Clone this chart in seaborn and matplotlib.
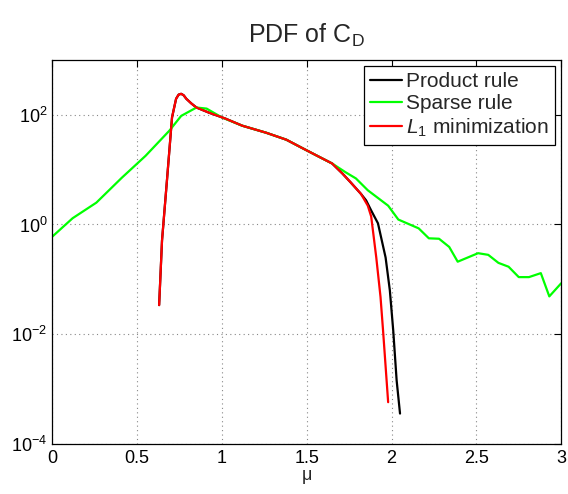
import numpy as np
import pandas as pd
import matplotlib
matplotlib.use("Agg")
import matplotlib.pyplot as plt
import seaborn as sns
from matplotlib.ticker import FixedLocator, LogFormatterMathtext, NullLocator

# values (mu, pdf)
product_mu = [0.63, 0.647, 0.676, 0.706, 0.73, 0.745, 0.76, 0.775, 0.79, 0.82, 0.85, 0.92,
              1.02, 1.12, 1.26, 1.38, 1.47, 1.55, 1.65, 1.71, 1.76, 1.82, 1.85, 1.88,
              1.92, 1.965, 1.99, 2.01, 2.03, 2.05]
product_pdf = [0.034, 0.51, 6.3, 89, 195, 232, 240, 225, 195, 160, 135, 110,
               85, 63, 47, 35, 25, 18.6, 12.9, 8.5, 5.8, 3.6, 2.75, 1.8,
               1.05, 0.25, 0.063, 0.0117, 0.00145, 0.00036]

sparse_mu = [0.0, 0.12, 0.26, 0.41, 0.55, 0.69, 0.76, 0.85, 0.91, 1.0, 1.12, 1.26,
             1.38, 1.47, 1.55, 1.65, 1.73, 1.79, 1.86, 1.98, 2.04, 2.16, 2.22, 2.28,
             2.34, 2.39, 2.51, 2.57, 2.63, 2.69, 2.75, 2.81, 2.88, 2.93, 3.0]
sparse_pdf = [0.6, 1.3, 2.5, 7.1, 17.8, 51, 95, 135, 129, 89, 63, 47,
              35, 25, 18.6, 12.9, 8.9, 6.9, 4.2, 2.2, 1.23, 0.85, 0.56, 0.55,
              0.39, 0.21, 0.30, 0.28, 0.20, 0.17, 0.11, 0.11, 0.13, 0.049, 0.085]

l1_mu = [0.63, 0.647, 0.676, 0.706, 0.73, 0.745, 0.76, 0.775, 0.79, 0.82, 0.85, 0.92,
         1.02, 1.12, 1.26, 1.38, 1.47, 1.55, 1.65, 1.71, 1.76, 1.82, 1.86, 1.88,
         1.91, 1.935, 1.95, 1.98]
l1_pdf = [0.034, 0.51, 6.3, 89, 195, 232, 240, 225, 195, 160, 135, 110,
          85, 63, 47, 35, 25, 18.6, 12.9, 8.5, 5.8, 3.6, 2.2, 1.4,
          0.25, 0.048, 0.0117, 0.00058]

labels = ["Product rule", "Sparse rule", r"$\mathit{L_1}$ minimization"]
colors = ["black", "#00ff00", "#ff0000"]

df = pd.concat([
    pd.DataFrame({"mu": product_mu, "pdf": product_pdf, "method": labels[0]}),
    pd.DataFrame({"mu": sparse_mu, "pdf": sparse_pdf, "method": labels[1]}),
    pd.DataFrame({"mu": l1_mu, "pdf": l1_pdf, "method": labels[2]}),
])

sns.set_style("white")
plt.rcParams["font.family"] = ["Liberation Sans", "DejaVu Sans"]
plt.rcParams["mathtext.fontset"] = "custom"
plt.rcParams["mathtext.rm"] = "Liberation Sans"
plt.rcParams["mathtext.it"] = "Liberation Sans:italic"

fig = plt.figure(figsize=(5.68, 4.94), dpi=100)
ax = fig.add_axes([0.092, 0.101, 0.896, 0.778])

sns.lineplot(data=df, x="mu", y="pdf", hue="method", palette=dict(zip(labels, colors)),
             hue_order=labels, sort=False, estimator=None, linewidth=1.6, ax=ax)

ax.set_yscale("log")
ax.set_xlim(0, 3)
ax.set_ylim(1e-4, 1e3)
ax.set_xticks([0, 0.5, 1, 1.5, 2, 2.5, 3])
ax.set_xticklabels(["0", "0.5", "1", "1.5", "2", "2.5", "3"])
ax.yaxis.set_major_locator(FixedLocator([1e-4, 1e-2, 1e0, 1e2]))
ax.yaxis.set_major_formatter(LogFormatterMathtext())
ax.yaxis.set_minor_locator(NullLocator())

ax.grid(True, linestyle=(0, (1, 3)), color="#888888", linewidth=0.8)
ax.tick_params(direction="in", top=True, right=True, length=5, labelsize=13, colors="black")
ax.tick_params(axis="x", pad=4)
for s in ax.spines.values():
    s.set_color("black")
    s.set_linewidth(0.9)

ax.set_title(r"PDF of C$_\mathrm{D}$", fontsize=18, pad=12)
ax.set_xlabel("μ", fontsize=13, labelpad=0)
ax.set_ylabel("")

leg = ax.legend(loc="upper right", fontsize=15, frameon=True, fancybox=False,
                framealpha=1, edgecolor="black", handlelength=1.5, handletextpad=0.2,
                borderpad=0.3, labelspacing=0.15, borderaxespad=0.3)
leg.get_frame().set_linewidth(0.9)

fig.savefig("out.png", dpi=100)
